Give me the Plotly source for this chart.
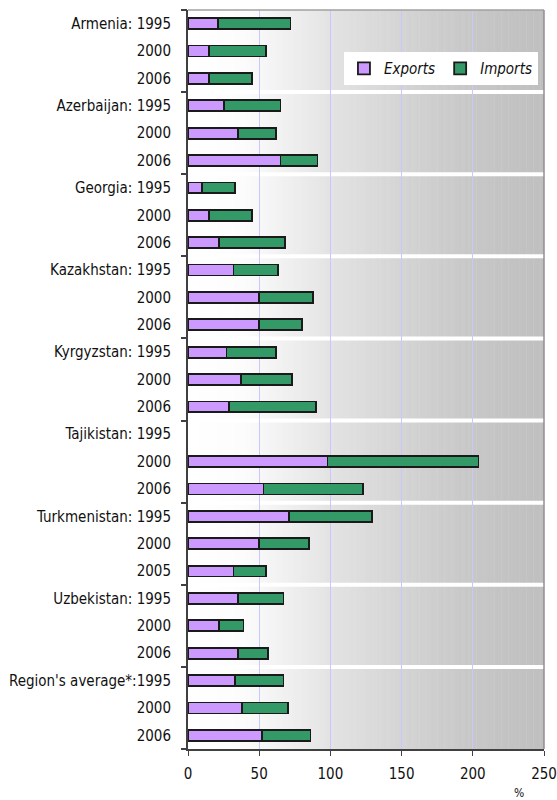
import plotly.graph_objects as go

countries = ["Armenia", "Azerbaijan", "Georgia", "Kazakhstan", "Kyrgyzstan",
             "Tajikistan", "Turkmenistan", "Uzbekistan", "Region's average*"]
years = [["1995", "2000", "2006"], ["1995", "2000", "2006"], ["1995", "2000", "2006"],
         ["1995", "2000", "2006"], ["1995", "2000", "2006"], ["1995", "2000", "2006"],
         ["1995", "2000", "2005"], ["1995", "2000", "2006"], ["1995", "2000", "2006"]]

exports = [21, 15, 15,
           25, 35, 65,
           10, 15, 22,
           32, 50, 50,
           27, 37, 29,
           None, 98, 53,
           71, 50, 32,
           35, 22, 35,
           33, 38, 52]
imports = [51, 40, 30,
           40, 27, 26,
           23, 30, 46,
           31, 38, 30,
           35, 36, 61,
           None, 106, 70,
           58, 35, 23,
           32, 17, 21,
           34, 32, 34]

x_ticks = [0, 50, 100, 150, 200, 250]

# build row labels
labels = []
for c, ys in zip(countries, years):
    for i, y in enumerate(ys):
        if i == 0:
            sep = ":" if c.endswith("*") else ": "
            labels.append(f"{c}{sep}{y}")
        else:
            labels.append(y)
n = len(labels)
pos = list(range(n))

FONT = "DejaVu Sans Condensed, Liberation Sans Narrow, Arial Narrow, Liberation Sans, Arial"

fig = go.Figure()
fig.add_trace(go.Bar(y=pos, x=exports, orientation="h", name="<i>Exports</i>",
                     width=0.4, marker=dict(color="#cc99ff", line=dict(color="#1a1a1a", width=1.8))))
fig.add_trace(go.Bar(y=pos, x=imports, orientation="h", name="<i>Imports</i>",
                     width=0.4, marker=dict(color="#339966", line=dict(color="#1a1a1a", width=1.8))))
bounds = [i * 3 - 0.5 for i in range(len(countries) + 1)]
fig.add_trace(go.Scatter(x=[None], y=[None], yaxis="y2", showlegend=False, hoverinfo="skip"))

# gradient background (styling)
anchors = [(0, 255), (40, 252), (100, 227), (150, 212), (200, 199), (250, 191)]
def gray(v):
    for (x0, g0), (x1, g1) in zip(anchors[:-1], anchors[1:]):
        if x0 <= v <= x1:
            return g0 + (g1 - g0) * (v - x0) / (x1 - x0)
    return anchors[-1][1]

shapes = []
steps = 100
for k in range(steps):
    a = 250 * k / steps
    b = 250 * (k + 1) / steps + 0.3
    g = int(round(gray((a + b) / 2)))
    shapes.append(dict(type="rect", xref="x", yref="paper", x0=a, x1=min(b, 250), y0=0, y1=1,
                       fillcolor=f"rgb({g},{g},{g})", line=dict(width=0), layer="below"))
for b in bounds[1:-1]:
    shapes.append(dict(type="line", xref="paper", yref="y", x0=0, x1=1, y0=b, y1=b,
                       line=dict(color="white", width=4), layer="between"))
shapes.append(dict(type="line", xref="paper", yref="paper", x0=0, x1=1, y0=1, y1=1,
                   line=dict(color="#a0a0a0", width=1.5), layer="above"))
shapes.append(dict(type="line", xref="paper", yref="paper", x0=1, x1=1, y0=0, y1=1,
                   line=dict(color="#909090", width=1.5), layer="above"))

fig.update_layout(
    width=557, height=800,
    margin=dict(l=188, r=13, t=10, b=51, autoexpand=False),
    paper_bgcolor="white", plot_bgcolor="white",
    barmode="stack",
    font=dict(family=FONT, size=15, color="#111111"),
    shapes=shapes,
    xaxis=dict(range=[0, 250], tickvals=x_ticks, showgrid=True, gridcolor="#c8c8ff", gridwidth=1,
               zeroline=False, showline=True, linecolor="#404040", linewidth=2,
               ticks="outside", ticklen=5, tickcolor="#404040", tickfont=dict(size=15),
               ticklabeloverflow="allow", automargin=False, ticklabelstandoff=5),
    yaxis=dict(range=[n - 0.5, -0.5], tickvals=pos, ticktext=labels, showgrid=False,
               zeroline=False, showline=True, linecolor="#404040", linewidth=2,
               ticks="", ticklabelstandoff=12, tickfont=dict(size=15), automargin=False),
    yaxis2=dict(range=[n - 0.5, -0.5], overlaying="y", side="left", tickvals=bounds,
                showticklabels=False, ticks="outside", ticklen=6, tickcolor="#404040",
                tickwidth=2, showgrid=False, zeroline=False, showline=False, automargin=False),
    legend=dict(orientation="h", x=0.983, xanchor="right", y=0.943, yanchor="top",
                bgcolor="white", font=dict(family=FONT, size=15), traceorder="normal",
                itemwidth=30, tracegroupgap=0),
    annotations=[dict(text="%", xref="paper", yref="paper", x=0.95, y=-0.06,
                      showarrow=False, font=dict(size=12), yanchor="middle")],
    bargap=0.6,
)

fig.write_html("out.html")
